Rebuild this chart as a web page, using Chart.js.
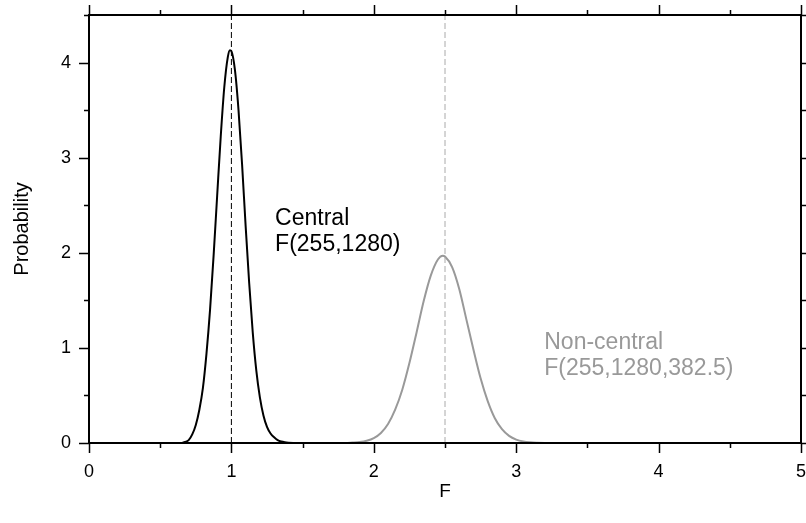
<!DOCTYPE html>
<html>
<head>
<meta charset="utf-8">
<script src="https://cdn.jsdelivr.net/npm/chart.js@4.4.1/dist/chart.umd.min.js"></script>
<style>
  html, body { margin: 0; padding: 0; background: #fff; }
  canvas { display: block; }
</style>
</head>
<body>
<canvas id="fChart" width="806" height="523"></canvas>
<script>
// values
const centralF = [0.65, 0.675, 0.70, 0.725, 0.75, 0.775, 0.80, 0.825, 0.85, 0.875, 0.90, 0.925, 0.95, 0.975, 0.99, 1.00,
    1.025, 1.05, 1.075, 1.10, 1.125, 1.15, 1.175, 1.20, 1.225, 1.25, 1.275, 1.30, 1.325, 1.35, 1.375, 1.40, 1.45];
const centralDensity = [0, 0.01, 0.03, 0.09, 0.19, 0.35, 0.58, 0.94, 1.40, 1.97, 2.60, 3.22, 3.74, 4.06, 4.13, 4.12,
    3.92, 3.50, 2.93, 2.28, 1.68, 1.16, 0.76, 0.48, 0.29, 0.17, 0.10, 0.06, 0.03, 0.015, 0.007, 0.003, 0];

const noncentralF = [1.80, 1.85, 1.90, 1.95, 2.00, 2.05, 2.10, 2.15, 2.20, 2.25, 2.30, 2.35, 2.40, 2.45, 2.485, 2.50,
    2.55, 2.60, 2.65, 2.70, 2.75, 2.80, 2.85, 2.90, 2.95, 3.00, 3.05, 3.10, 3.15, 3.20, 3.30];
const noncentralDensity = [0, 0.004, 0.01, 0.024, 0.052, 0.106, 0.20, 0.35, 0.56, 0.84, 1.16, 1.49, 1.76, 1.93, 1.97, 1.96,
    1.85, 1.62, 1.30, 0.98, 0.68, 0.44, 0.26, 0.145, 0.075, 0.036, 0.016, 0.007, 0.003, 0.001, 0];

const refLineF = [1, 2.5];
const xTickValues = [0, 1, 2, 3, 4, 5];
const yTickValues = [0, 1, 2, 3, 4];
const xRange = [0, 5];
const yRange = [0, 4.5];

const centralLabel = ['Central', 'F(255,1280)'];
const noncentralLabel = ['Non-central', 'F(255,1280,382.5)'];

const FONT = "'Liberation Sans', Arial, Helvetica, sans-serif";
const GREY = '#999999';

function toPoints(xs, ys) {
    return xs.map((x, i) => ({ x, y: ys[i] }));
}

// frame, outward ticks and the two curve labels
const framePlugin = {
    id: 'frame',
    afterDatasetsDraw(chart) {
        const { ctx, chartArea: a, scales: { x, y } } = chart;
        ctx.save();
        ctx.strokeStyle = '#000';
        ctx.lineWidth = 2;
        ctx.strokeRect(a.left, a.top, a.right - a.left, a.bottom - a.top);

        ctx.lineWidth = 1.5;
        ctx.beginPath();
        for (let v = xRange[0]; v <= xRange[1] + 1e-9; v += 0.5) {
            const px = Math.round(x.getPixelForValue(v)) + 0.5;
            const len = Number.isInteger(v) ? 10 : 5;
            ctx.moveTo(px, a.bottom); ctx.lineTo(px, a.bottom + len);
            ctx.moveTo(px, a.top); ctx.lineTo(px, a.top - len);
        }
        for (let v = yRange[0]; v <= yRange[1] + 1e-9; v += 0.5) {
            const py = Math.round(y.getPixelForValue(v)) + 0.5;
            const len = Number.isInteger(v) ? 10 : 5;
            ctx.moveTo(a.left, py); ctx.lineTo(a.left - len, py);
            ctx.moveTo(a.right, py); ctx.lineTo(a.right + len, py);
        }
        ctx.stroke();

        ctx.font = '23px ' + FONT;
        ctx.textAlign = 'left';
        ctx.textBaseline = 'alphabetic';
        ctx.fillStyle = '#000';
        ctx.fillText(centralLabel[0], x.getPixelForValue(1.307), y.getPixelForValue(2.29));
        ctx.fillText(centralLabel[1], x.getPixelForValue(1.307), y.getPixelForValue(2.02));
        ctx.fillStyle = GREY;
        ctx.fillText(noncentralLabel[0], x.getPixelForValue(3.197), y.getPixelForValue(0.985));
        ctx.fillText(noncentralLabel[1], x.getPixelForValue(3.197), y.getPixelForValue(0.72));
        ctx.restore();
    }
};

const ctx = document.getElementById('fChart').getContext('2d');
new Chart(ctx, {
    type: 'line',
    data: {
        datasets: [
            {
                data: toPoints([refLineF[0], refLineF[0]], yRange),
                borderColor: '#000',
                borderWidth: 1,
                borderDash: [6, 3],
                pointRadius: 0
            },
            {
                data: toPoints([refLineF[1], refLineF[1]], yRange),
                borderColor: '#aaaaaa',
                borderWidth: 1,
                borderDash: [6, 3],
                pointRadius: 0
            },
            {
                data: toPoints(noncentralF, noncentralDensity),
                borderColor: GREY,
                borderWidth: 2,
                pointRadius: 0,
                cubicInterpolationMode: 'monotone'
            },
            {
                data: toPoints(centralF, centralDensity),
                borderColor: '#000',
                borderWidth: 2,
                pointRadius: 0,
                cubicInterpolationMode: 'monotone'
            }
        ]
    },
    options: {
        responsive: false,
        animation: false,
        layout: { padding: { top: 15, right: 5, left: 0, bottom: 0 } },
        plugins: {
            legend: { display: false },
            tooltip: { enabled: false }
        },
        scales: {
            x: {
                type: 'linear',
                min: xRange[0],
                max: xRange[1],
                afterBuildTicks: s => { s.ticks = xTickValues.map(v => ({ value: v })); },
                afterFit: s => {
                    s.height = 80;
                    s.paddingLeft = 0; s.paddingRight = 0;
                },
                grid: { display: false, drawTicks: false },
                border: { display: false },
                ticks: { color: '#000', padding: 18, font: { family: FONT, size: 18 } },
                title: {
                    display: true,
                    text: 'F',
                    color: '#000',
                    font: { family: FONT, size: 19 },
                    padding: { top: 0, bottom: 20 }
                }
            },
            y: {
                type: 'linear',
                min: yRange[0],
                max: yRange[1],
                afterBuildTicks: s => { s.ticks = yTickValues.map(v => ({ value: v })); },
                afterFit: s => {
                    s.width = 89;
                    s.paddingTop = 0; s.paddingBottom = 0;
                },
                grid: { display: false, drawTicks: false },
                border: { display: false },
                ticks: { color: '#000', padding: 18, font: { family: FONT, size: 18 } },
                title: {
                    display: true,
                    text: 'Probability',
                    color: '#000',
                    font: { family: FONT, size: 20 },
                    padding: { top: 10, bottom: 0 }
                }
            }
        }
    },
    plugins: [framePlugin]
});
</script>
</body>
</html>
